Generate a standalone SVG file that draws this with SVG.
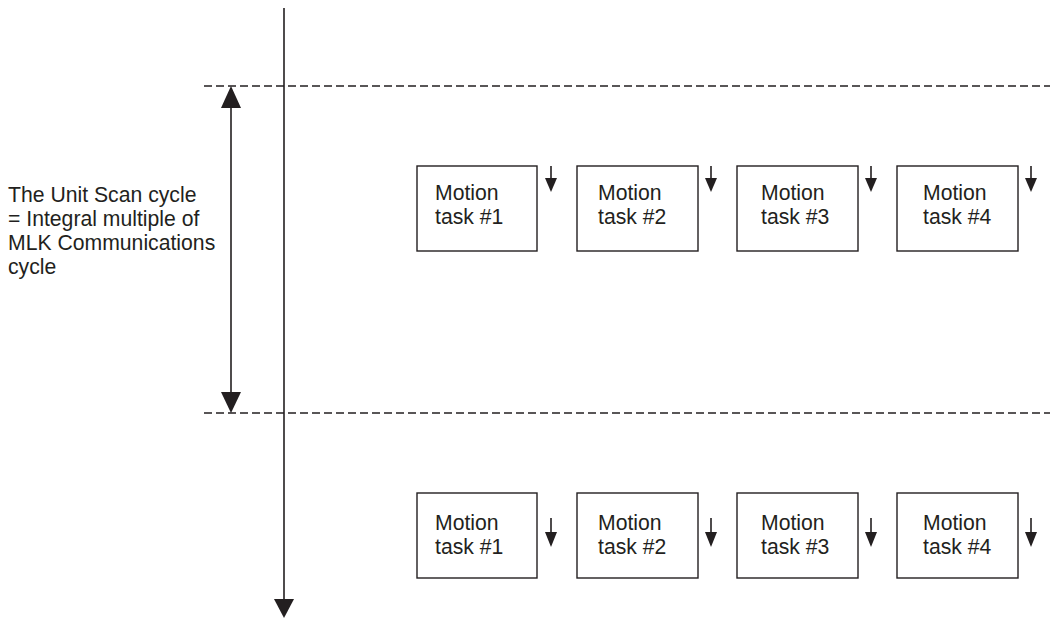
<svg xmlns="http://www.w3.org/2000/svg" width="1050" height="620" viewBox="0 0 1050 620">
<style>
text{font-family:"Liberation Sans",Arial,sans-serif;font-size:21.2px;fill:#231f20}
.box{fill:#fff;stroke:#231f20;stroke-width:1.4}
.ln{stroke:#231f20;stroke-width:1.6;fill:none}
.dash{stroke:#231f20;stroke-width:1.4;stroke-dasharray:8 4;fill:none}
.hd{fill:#231f20}
</style>
<g id="connectors">
<line class="ln" x1="284" y1="8" x2="284" y2="600"/>
<polygon class="hd" points="274,599 294,599 284,618"/>
<line class="dash" x1="204" y1="86" x2="1050" y2="86"/>
<line class="dash" x1="204" y1="413" x2="1050" y2="413"/>
<line class="ln" x1="231" y1="105" x2="231" y2="395"/>
<polygon class="hd" points="231,86 221,108 241,108"/>
<polygon class="hd" points="231,413 221,392 241,392"/>
<g id="small-arrows-top">
<line class="ln" x1="551" y1="166" x2="551" y2="180"/><polygon class="hd" points="545,178 557,178 551,192"/>
<line class="ln" x1="711" y1="166" x2="711" y2="180"/><polygon class="hd" points="705,178 717,178 711,192"/>
<line class="ln" x1="871" y1="166" x2="871" y2="180"/><polygon class="hd" points="865,178 877,178 871,192"/>
<line class="ln" x1="1031" y1="166" x2="1031" y2="180"/><polygon class="hd" points="1025,178 1037,178 1031,192"/>
</g>
<g id="small-arrows-bottom">
<line class="ln" x1="551" y1="518" x2="551" y2="534"/><polygon class="hd" points="545,532 557,532 551,547"/>
<line class="ln" x1="711" y1="518" x2="711" y2="534"/><polygon class="hd" points="705,532 717,532 711,547"/>
<line class="ln" x1="871" y1="518" x2="871" y2="534"/><polygon class="hd" points="865,532 877,532 871,547"/>
<line class="ln" x1="1031" y1="518" x2="1031" y2="534"/><polygon class="hd" points="1025,532 1037,532 1031,547"/>
</g>
</g>
<g id="label-cycle">
<text x="8" y="202">The Unit Scan cycle</text>
<text x="8" y="226">= Integral multiple of</text>
<text x="8" y="250">MLK Communications</text>
<text x="8" y="274">cycle</text>
</g>
<g id="top-task1"><rect class="box" x="417" y="166" width="120" height="85"/><text x="435" y="200">Motion</text><text x="435" y="224">task #1</text></g>
<g id="top-task2"><rect class="box" x="577" y="166" width="121" height="85"/><text x="598" y="200">Motion</text><text x="598" y="224">task #2</text></g>
<g id="top-task3"><rect class="box" x="737" y="166" width="121" height="85"/><text x="761" y="200">Motion</text><text x="761" y="224">task #3</text></g>
<g id="top-task4"><rect class="box" x="897" y="166" width="121" height="85"/><text x="923" y="200">Motion</text><text x="923" y="224">task #4</text></g>
<g id="bot-task1"><rect class="box" x="417" y="493" width="120" height="85"/><text x="435" y="530">Motion</text><text x="435" y="554">task #1</text></g>
<g id="bot-task2"><rect class="box" x="577" y="493" width="121" height="85"/><text x="598" y="530">Motion</text><text x="598" y="554">task #2</text></g>
<g id="bot-task3"><rect class="box" x="737" y="493" width="121" height="85"/><text x="761" y="530">Motion</text><text x="761" y="554">task #3</text></g>
<g id="bot-task4"><rect class="box" x="897" y="493" width="121" height="85"/><text x="923" y="530">Motion</text><text x="923" y="554">task #4</text></g>
</svg>
